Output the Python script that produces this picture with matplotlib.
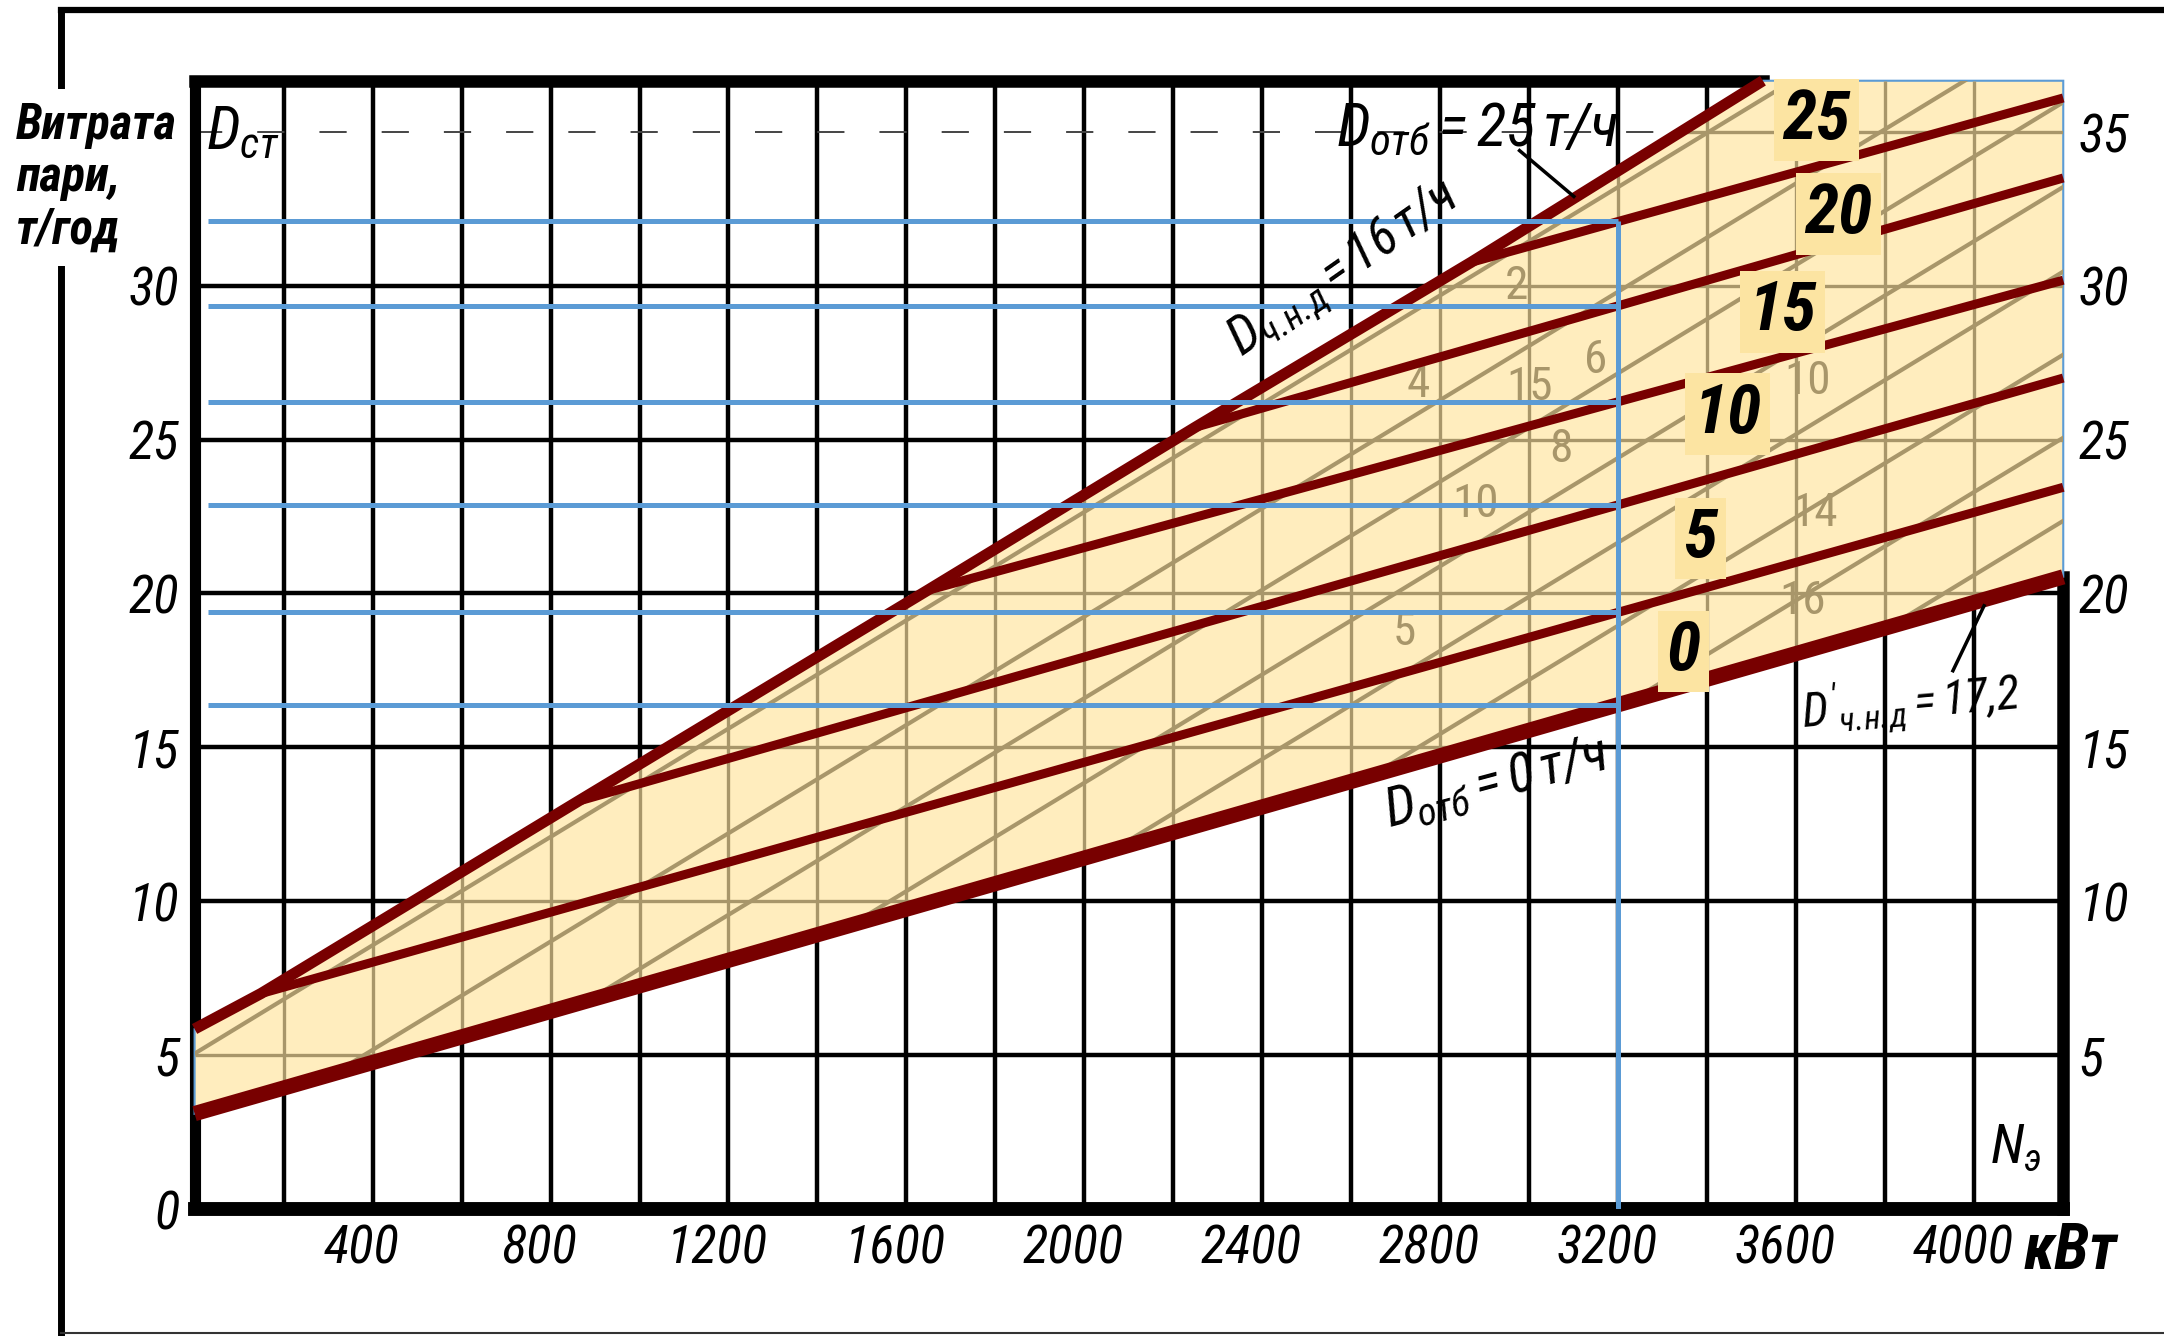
import numpy as np
import matplotlib
matplotlib.use('Agg')
import matplotlib.pyplot as plt
from matplotlib import font_manager as fm
from matplotlib.patches import Polygon
from matplotlib.lines import Line2D
from matplotlib.transforms import ScaledTranslation

# ---------------- data ----------------
x_limits = [0, 4200]
y_limits = [0, 36.66]
x_ticks = [400, 800, 1200, 1600, 2000, 2400, 2800, 3200, 3600, 4000]
x_tick_labels = ['400', '800', '1200', '1600', '2000', '2400', '2800', '3200', '3600', '4000']
y_ticks = [0, 5, 10, 15, 20, 25, 30, 35]
y_tick_labels = ['0', '5', '10', '15', '20', '25', '30', '35']
grid_x = [200, 400, 600, 800, 1000, 1200, 1400, 1600, 1800, 2000,
          2200, 2400, 2600, 2800, 3000, 3200, 3400, 3600, 3800, 4000]
grid_y = [5, 10, 15, 20, 25, 30, 35]

# upper boundary  D_ч.н.д = 16 т/ч
env_x = [0, 149, 862, 1647, 2249, 2869, 3525]
env_y = [5.85, 7.0, 13.25, 20.1, 25.4, 30.76, 36.66]

# lines of constant extraction D_отб, т/ч
extraction_labels = ['0', '5', '10', '15', '20', '25']
line_start_x = [0, 149, 862, 1647, 2249, 2869]
line_start_y = [3.1, 7.0, 13.25, 20.1, 25.4, 30.76]
line_end_x = [4200, 4200, 4200, 4200, 4200, 4200]
line_end_y = [20.54, 23.45, 27.0, 30.18, 33.5, 36.1]
label_x = [3347, 3384, 3446, 3570, 3694, 3645]
label_y = [18.12, 21.79, 25.83, 29.15, 32.33, 35.38]

operating_power = 3200      # кВт, blue reading line
blue_start_x = 30

# faint diagonal lines of the original nomogram (intercept at N=0, slope)
diag_intercepts = [5.05, 1.65, -1.0, -3.75, -6.5, -9.2, -11.9, -14.6]
diag_slope = 0.0088

# faint numbers of the original nomogram
khaki_numbers = ['2', '4', '6', '15', '8', '10', '10', '14', '16', '5']
khaki_x = [2971, 2750, 3150, 3000, 3071, 2880, 3625, 3641, 3613, 2718]
khaki_y = [30.0, 26.8, 27.6, 26.7, 24.7, 22.9, 26.9, 22.6, 19.75, 18.74]

# ---------------- fonts ----------------
names = {f.name for f in fm.fontManager.ttflist}
NARROW, STRETCH, K = 'DejaVu Sans', 'normal', 0.75
for cand, k in [('Liberation Sans Narrow', 1.0), ('Roboto Condensed', 1.0),
                ('Open Sans Condensed', 1.0), ('Noto Sans Condensed', 0.95),
                ('DejaVu Sans Condensed', 0.85)]:
    if cand in names:
        NARROW, K = cand, k
        break
else:
    for f in fm.fontManager.ttflist:
        if f.name in ('Noto Sans', 'DejaVu Sans', 'Open Sans') and 'condensed' in str(f.stretch):
            NARROW, STRETCH, K = f.name, f.stretch, 0.9
            break

pat = NARROW + (':' + STRETCH if STRETCH != 'normal' else '')
plt.rcParams['mathtext.fontset'] = 'custom'
plt.rcParams['mathtext.it'] = pat + ':italic'
plt.rcParams['mathtext.rm'] = pat + ':italic'
plt.rcParams['mathtext.sf'] = pat + ':italic'
plt.rcParams['mathtext.bf'] = pat + ':bold:italic'
FONT = dict(family=[NARROW, 'DejaVu Sans'], fontstretch=STRETCH)

RED = '#780000'
TAN = '#FFEDBE'
BOX = '#FCE4A2'
KHAKI = '#A8966A'
BLUE = '#5B9BD5'

# ---------------- figure ----------------
fig = plt.figure(figsize=(21.64, 13.36), dpi=100)
W, H = 1568.0, 968.0
ax = fig.add_axes([141 / W, 1 - 876 / H, (1495 - 141) / W, (876 - 58.5) / H])
ax.set_xlim(*x_limits)
ax.set_ylim(*y_limits)
for s in ax.spines.values():
    s.set_visible(False)
ax.set_facecolor('white')

# black grid (white part of the diagram)
ax.vlines(grid_x, y_limits[0], y_limits[1], colors='black', lw=3.2, zorder=1)
ax.hlines(grid_y[:-1], x_limits[0], x_limits[1], colors='black', lw=3.2, zorder=1)
ax.hlines(grid_y[-1], x_limits[0], x_limits[1], colors='#444444', lw=1.4,
          linestyles=(0, (14, 18)), zorder=1)

# frame
fkw = dict(color='black', zorder=1.5, clip_on=False, solid_capstyle='projecting')
ax.plot(x_limits, [y_limits[0]] * 2, lw=10, **fkw)
ax.plot([x_limits[0]] * 2, y_limits, lw=8, **fkw)
ax.plot([x_limits[0], env_x[-1]], [y_limits[1]] * 2, lw=9, **fkw)
ax.plot([x_limits[1]] * 2, [y_limits[0], line_end_y[0]], lw=9, **fkw)

# operating region
poly_pts = ([(line_start_x[0], line_start_y[0]), (line_end_x[0], line_end_y[0]),
             (x_limits[1], y_limits[1])] + list(zip(env_x[::-1], env_y[::-1])))
region = Polygon(poly_pts, closed=True, facecolor=TAN, edgecolor=BLUE, lw=1.5,
                 zorder=2, clip_on=False)
ax.add_patch(region)

kg = ax.vlines(grid_x, y_limits[0], y_limits[1], colors=KHAKI, lw=2.4, zorder=2.5)
kg.set_clip_path(region)
kh = ax.hlines(grid_y, x_limits[0], x_limits[1], colors=KHAKI, lw=2.4, zorder=2.5)
kh.set_clip_path(region)
for b in diag_intercepts:
    ln, = ax.plot(x_limits, [b + diag_slope * x_limits[0], b + diag_slope * x_limits[1]],
                  color=KHAKI, lw=3.0, zorder=2.5)
    ln.set_clip_path(region)
for t, xx, yy in zip(khaki_numbers, khaki_x, khaki_y):
    tx = ax.text(xx, yy, t, color=KHAKI, fontsize=34 * K, ha='center', va='center',
                 zorder=2.6, **FONT)
    tx.set_clip_path(region)

# extraction lines
for i in range(len(extraction_labels)):
    ax.plot([line_start_x[i], line_end_x[i]], [line_start_y[i], line_end_y[i]],
            color=RED, lw=11 if i == 0 else 6.5, solid_capstyle='butt',
            zorder=4, clip_on=False)
ax.plot(env_x, env_y, color=RED, lw=8, solid_joinstyle='round',
        solid_capstyle='butt', zorder=4.1, clip_on=False)

# blue reading lines at N = 3200 kW
levels = [np.interp(operating_power, [line_start_x[i], line_end_x[i]],
                    [line_start_y[i], line_end_y[i]]) for i in range(len(extraction_labels))]
ax.hlines(levels, blue_start_x, operating_power, colors=BLUE, lw=3.6, zorder=5)
ax.vlines(operating_power, y_limits[0], max(levels), colors=BLUE, lw=3.6, zorder=5)

# line labels
for lab, xx, yy in zip(extraction_labels, label_x, label_y):
    ax.text(xx, yy, lab, ha='center', va='center', fontsize=50 * K,
            fontweight='bold', style='italic', color='black', zorder=6,
            bbox=dict(boxstyle='square,pad=0.12', fc=BOX, ec='none'), **FONT)

# annotations
akw = dict(color='black', zorder=6, ha='left', va='baseline', rotation_mode='anchor')
ax.text(25, 34.45, r'$D_{ст}$', fontsize=44 * K, **akw)
ax.text(2565, 34.57, r'$D_{отб}{=}25\,т/ч$', fontsize=44 * K, **akw)
ax.plot([2978, 3100], [34.39, 32.9], color='black', lw=2.5, zorder=6)
ax.text(2354, 27.67, r'$D_{ч.\!н.\!д}{=}16\,т/ч$', fontsize=38 * K, rotation=35, **akw)
ax.text(2686, 12.38, r'$D_{отб}{=}0\,т/ч$', fontsize=40 * K, rotation=15, **akw)
ax.text(3614, 15.65, r"$D'_{ч.\!н.\!д}{=}17{,}2$", fontsize=34 * K, rotation=5, **akw)
ax.plot([3952, 4022], [17.49, 19.6], color='black', lw=2.5, zorder=6)
ax.text(4035, 1.48, r'$N_{э}$', fontsize=40 * K, **akw)

# ticks
ax.set_xticks(x_ticks, x_tick_labels)
ax.set_yticks(y_ticks, y_tick_labels)
ax.tick_params(axis='both', length=0, labelsize=38 * K)
ax.tick_params(axis='x', pad=10)
ax.tick_params(axis='y', pad=11, left=True, right=True, labelleft=True, labelright=True)
shift_x = ScaledTranslation(-0.11, 0, fig.dpi_scale_trans)
for t in ax.xaxis.get_major_ticks():
    t.label1.set_fontstyle('italic')
    t.label1.set_family(FONT['family'])
    t.label1.set_fontstretch(STRETCH)
    t.label1.set_transform(t.label1.get_transform() + shift_x)
for v, t in zip(y_ticks, ax.yaxis.get_major_ticks()):
    for lbl in (t.label1, t.label2):
        lbl.set_fontstyle('italic')
        lbl.set_family(FONT['family'])
        lbl.set_fontstretch(STRETCH)
    if v == 35:
        t.label1.set_visible(False)
    if v == 0:
        t.label2.set_visible(False)

# outer border of the slide
bx = 61 / 2164.0
fig.add_artist(Line2D([bx, bx], [1 - 10 / 1336.0, 1 - 1333 / 1336.0], color='black',
                      lw=5, transform=fig.transFigure))
fig.add_artist(Line2D([bx, 1], [1 - 10 / 1336.0] * 2, color='black', lw=4.5,
                      transform=fig.transFigure))
fig.add_artist(Line2D([bx, 1], [1 - 1333 / 1336.0] * 2, color='#333333', lw=1.5,
                      transform=fig.transFigure))

# axis titles
fig.text(0.0074, 0.924, 'Витрата\nпари,\nт/год', ha='left', va='top',
         fontsize=35 * K, fontweight='bold', style='italic', linespacing=1.15,
         zorder=10, bbox=dict(boxstyle='square,pad=0.25', fc='white', ec='none'), **FONT)
fig.text(1500 / W, 1 - 907 / H, 'кВт', ha='center', va='center', fontsize=46 * K,
         fontweight='bold', style='italic', zorder=10, **FONT)

fig.savefig('out.png', dpi=100)
